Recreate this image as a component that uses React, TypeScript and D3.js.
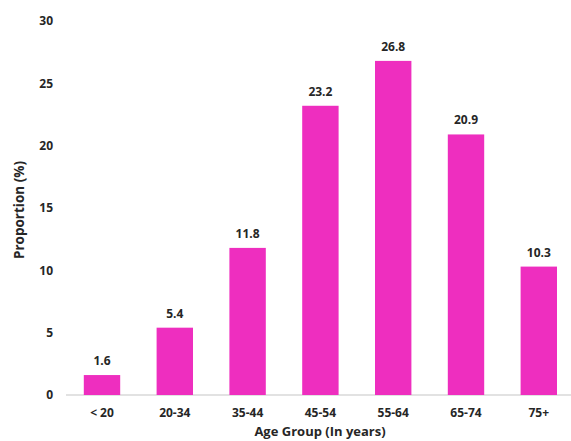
import React from "react";
import * as d3 from "d3";

const categories = ["< 20", "20-34", "35-44", "45-54", "55-64", "65-74", "75+"];
const values = [1.6, 5.4, 11.8, 23.2, 26.8, 20.9, 10.3];
const yTicks = [0, 5, 10, 15, 20, 25, 30];

const W = 571;
const H = 441;
const FONT = "'Open Sans', 'Noto Sans', sans-serif";

export default function App() {
  const x = d3.scaleBand<string>().domain(categories).range([65.6, 575.2]).paddingInner(0.5).paddingOuter(0.25);
  const y = d3.scaleLinear().domain([0, 30]).range([395, 21]);
  const bw = x.bandwidth();

  return (
    <svg width={W} height={H} style={{ position: "absolute", left: 0, top: 0, background: "#fff" }}>
      <line x1={66} x2={W} y1={y(0)} y2={y(0)} stroke="#d9d9d9" strokeWidth={1.5} />
      {yTicks.map((t) => (
        <text key={t} x={53} y={y(t)} dy="0.35em" textAnchor="end" fontFamily={FONT} fontWeight={700} fontSize={12} fill="#262626">
          {t}
        </text>
      ))}
      {categories.map((c, i) => (
        <g key={c}>
          <rect x={x(c)} y={y(values[i])} width={bw} height={y(0) - y(values[i])} fill="#EE2EBF" />
          <text x={(x(c) as number) + bw / 2} y={y(values[i]) - 10} textAnchor="middle" fontFamily={FONT} fontWeight={700} fontSize={12} fill="#262626">
            {values[i].toFixed(1)}
          </text>
          <text x={(x(c) as number) + bw / 2} y={413} dy="0.35em" textAnchor="middle" fontFamily={FONT} fontWeight={700} fontSize={12} fill="#262626">
            {c}
          </text>
        </g>
      ))}
      <text x={320} y={436} textAnchor="middle" fontFamily={FONT} fontWeight={700} fontSize={13} fill="#262626">
        Age Group (In years)
      </text>
      <text transform={`translate(19,210) rotate(-90)`} dy="0.35em" textAnchor="middle" fontFamily={FONT} fontWeight={700} fontSize={13.5} fill="#262626">
        Proportion (%)
      </text>
    </svg>
  );
}
